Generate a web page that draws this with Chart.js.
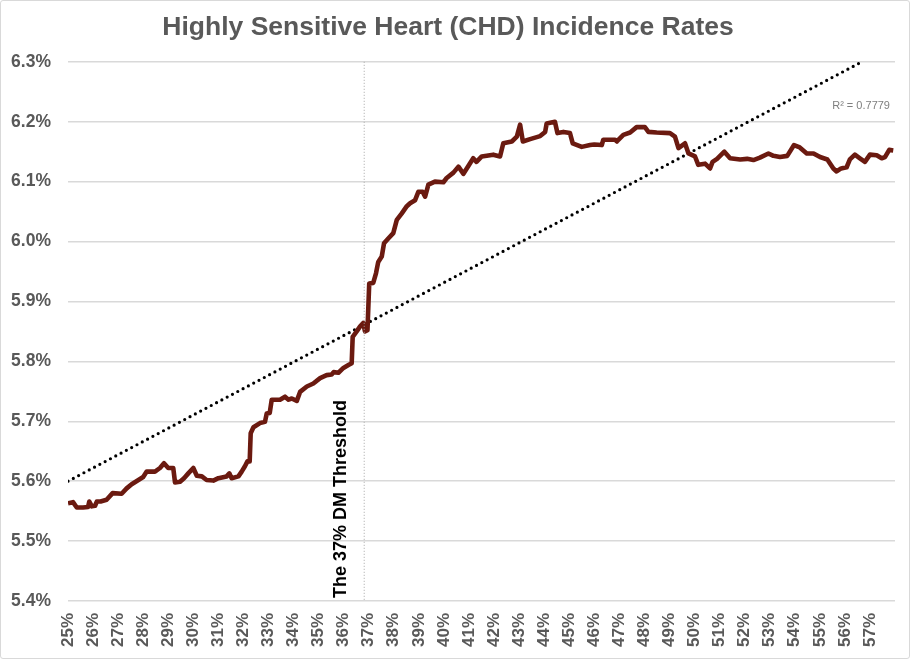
<!DOCTYPE html>
<html>
<head>
<meta charset="utf-8">
<script src="https://cdn.jsdelivr.net/npm/chart.js@4.4.1/dist/chart.umd.min.js"></script>
<style>
  html, body { margin: 0; padding: 0; background: #fff; }
  #wrap { width: 908px; height: 657px; border: 1px solid #d9d9d9; border-radius: 3px; }
  canvas { display: block; }
</style>
</head>
<body>
<div id="wrap"><canvas id="c" width="908" height="657"></canvas></div>
<script>
// DM share (%) along the x axis, CHD incidence (%) on y
const dmPct = [
  25.0, 25.2, 25.35, 25.6, 25.8, 25.85, 25.95, 26.08, 26.15, 26.3, 26.54, 26.78, 27.14, 27.34, 27.54, 27.81,
  28.0, 28.14, 28.47, 28.67, 28.83, 29.0, 29.2, 29.27, 29.47, 29.63, 29.8, 30.0, 30.14, 30.34, 30.53, 30.8,
  31.0, 31.33, 31.44, 31.53, 31.8, 31.93, 32.06, 32.16, 32.25, 32.29, 32.4, 32.66, 32.86, 32.93, 33.05, 33.13,
  33.46, 33.66, 33.8, 33.93, 34.13, 34.26, 34.53, 34.79, 35.06, 35.32, 35.52, 35.6, 35.79, 35.99, 36.19, 36.32,
  36.36, 36.52, 36.65, 36.78, 36.85, 36.95, 37.02, 37.18, 37.29, 37.38, 37.52, 37.61, 37.78, 37.98, 38.12, 38.32,
  38.52, 38.65, 38.85, 38.98, 39.15, 39.25, 39.38, 39.64, 39.98, 40.11, 40.38, 40.58, 40.78, 41.17, 41.3, 41.51,
  41.97, 42.24, 42.37, 42.71, 42.91, 43.04, 43.15, 43.44, 43.84, 44.04, 44.1, 44.43, 44.53, 44.77, 45.03, 45.14,
  45.5, 45.83, 46.0, 46.3, 46.36, 46.83, 46.9, 47.16, 47.43, 47.69, 48.02, 48.16, 48.49, 49.02, 49.22, 49.36,
  49.62, 49.76, 50.02, 50.15, 50.42, 50.62, 50.72, 50.9, 51.19, 51.42, 51.82, 52.1, 52.35, 52.61, 52.95, 53.15,
  53.41, 53.7, 53.97, 54.2, 54.48, 54.75, 55.01, 55.3, 55.54, 55.67, 55.85, 56.07, 56.2, 56.4, 56.6, 56.8,
  57.0, 57.27, 57.47, 57.6, 57.77, 57.93
];
const chdRate = [
  5.563, 5.565, 5.556, 5.556, 5.557, 5.566, 5.558, 5.559, 5.566, 5.566, 5.569, 5.580, 5.579, 5.588, 5.595, 5.602,
  5.607, 5.616, 5.616, 5.622, 5.630, 5.622, 5.622, 5.598, 5.599, 5.605, 5.613, 5.622, 5.609, 5.608, 5.602, 5.601,
  5.605, 5.608, 5.613, 5.605, 5.608, 5.616, 5.625, 5.633, 5.633, 5.680, 5.690, 5.697, 5.699, 5.713, 5.714, 5.736,
  5.736, 5.741, 5.736, 5.738, 5.734, 5.749, 5.758, 5.763, 5.772, 5.777, 5.778, 5.782, 5.781, 5.789, 5.794, 5.797,
  5.841, 5.850, 5.858, 5.864, 5.850, 5.852, 5.930, 5.931, 5.947, 5.966, 5.975, 5.997, 6.005, 6.014, 6.036, 6.047,
  6.059, 6.064, 6.069, 6.083, 6.083, 6.075, 6.095, 6.100, 6.099, 6.106, 6.115, 6.125, 6.113, 6.139, 6.133, 6.142,
  6.145, 6.142, 6.164, 6.167, 6.175, 6.195, 6.167, 6.171, 6.176, 6.183, 6.197, 6.200, 6.181, 6.183, 6.181, 6.164,
  6.158, 6.161, 6.162, 6.161, 6.170, 6.170, 6.167, 6.178, 6.182, 6.191, 6.191, 6.183, 6.182, 6.181, 6.175, 6.156,
  6.164, 6.147, 6.142, 6.128, 6.130, 6.122, 6.133, 6.138, 6.150, 6.139, 6.137, 6.138, 6.136, 6.140, 6.147, 6.143,
  6.141, 6.143, 6.161, 6.157, 6.147, 6.147, 6.141, 6.137, 6.122, 6.117, 6.122, 6.124, 6.137, 6.145, 6.139, 6.133,
  6.145, 6.144, 6.139, 6.141, 6.153, 6.152
];

// linear trendline end points
const trendX = [25, 56.68];
const trendY = [5.6, 6.3];
const rSquared = '0.7779';

const thresholdPct = 36.82;
const thresholdLabel = 'The 37% DM Threshold';

const gray = '#595959';

const overlayPlugin = {
  id: 'overlay',
  afterDatasetsDraw(chart) {
    const x = chart.scales.x, y = chart.scales.y;
    const ctx = chart.ctx;
    const xp = x.getPixelForValue(thresholdPct);
    ctx.save();
    // threshold line
    ctx.strokeStyle = '#a6a6a6';
    ctx.lineWidth = 1;
    ctx.setLineDash([1, 2]);
    ctx.beginPath();
    ctx.moveTo(xp, chart.chartArea.top);
    ctx.lineTo(xp, chart.chartArea.bottom);
    ctx.stroke();
    ctx.setLineDash([]);
    // rotated label
    ctx.translate(xp - 23, chart.chartArea.bottom - 3);
    ctx.rotate(-Math.PI / 2);
    ctx.fillStyle = '#000';
    ctx.font = 'bold 18px "Liberation Sans", Arial, sans-serif';
    ctx.textAlign = 'left';
    ctx.textBaseline = 'middle';
    ctx.fillText(thresholdLabel, 0, 0);
    ctx.restore();

    // R squared
    ctx.save();
    ctx.fillStyle = '#7f7f7f';
    ctx.font = '11px "Liberation Sans", Arial, sans-serif';
    ctx.textAlign = 'right';
    ctx.textBaseline = 'middle';
    ctx.fillText('R\u00B2 = ' + rSquared, x.getPixelForValue(57.8), y.getPixelForValue(6.226));
    ctx.restore();
  }
};

new Chart(document.getElementById('c'), {
  type: 'line',
  plugins: [overlayPlugin],
  data: {
    datasets: [
      {
        label: 'CHD incidence',
        data: dmPct.map((v, i) => ({ x: v, y: chdRate[i] })),
        borderColor: '#6b1a10',
        borderWidth: 4.6,
        pointRadius: 0,
        tension: 0,
        borderJoinStyle: 'round'
      },
      {
        label: 'Trend',
        data: trendX.map((v, i) => ({ x: v, y: trendY[i] })),
        borderColor: '#000',
        borderWidth: 3.2,
        borderDash: [0, 6],
        borderCapStyle: 'round',
        pointRadius: 0
      }
    ]
  },
  options: {
    responsive: false,
    animation: false,
    layout: { padding: { left: 0, right: 14, top: 0, bottom: 0 } },
    plugins: {
      legend: { display: false },
      tooltip: { enabled: false },
      title: {
        display: true,
        text: 'Highly Sensitive Heart (CHD) Incidence Rates',
        color: gray,
        font: { family: '"Liberation Sans", Arial, sans-serif', size: 26.5, weight: 'bold' },
        padding: { top: 11, bottom: 18 }
      }
    },
    scales: {
      x: {
        type: 'linear',
        min: 25,
        max: 58,
        grid: { display: false, drawTicks: false },
        border: { display: false },
        afterBuildTicks: s => { s.ticks = s.ticks.filter(t => t.value <= 57); },
        afterFit: s => { s.height = 57; },
        ticks: {
          stepSize: 1,
          autoSkip: false,
          minRotation: 90,
          maxRotation: 90,
          padding: 12,
          color: gray,
          font: { family: '"Liberation Sans", Arial, sans-serif', size: 17, weight: 'bold' },
          callback: v => v + '%'
        }
      },
      y: {
        min: 5.4,
        max: 6.3,
        grid: { color: '#d9d9d9', lineWidth: 1.5, drawTicks: false },
        border: { display: false },
        afterFit: s => { s.width = 67; },
        ticks: {
          stepSize: 0.1,
          padding: 17,
          color: gray,
          font: { family: '"Liberation Sans", Arial, sans-serif', size: 17.5, weight: 'bold' },
          callback: v => v.toFixed(1) + '%'
        }
      }
    }
  }
});
</script>
</body>
</html>
